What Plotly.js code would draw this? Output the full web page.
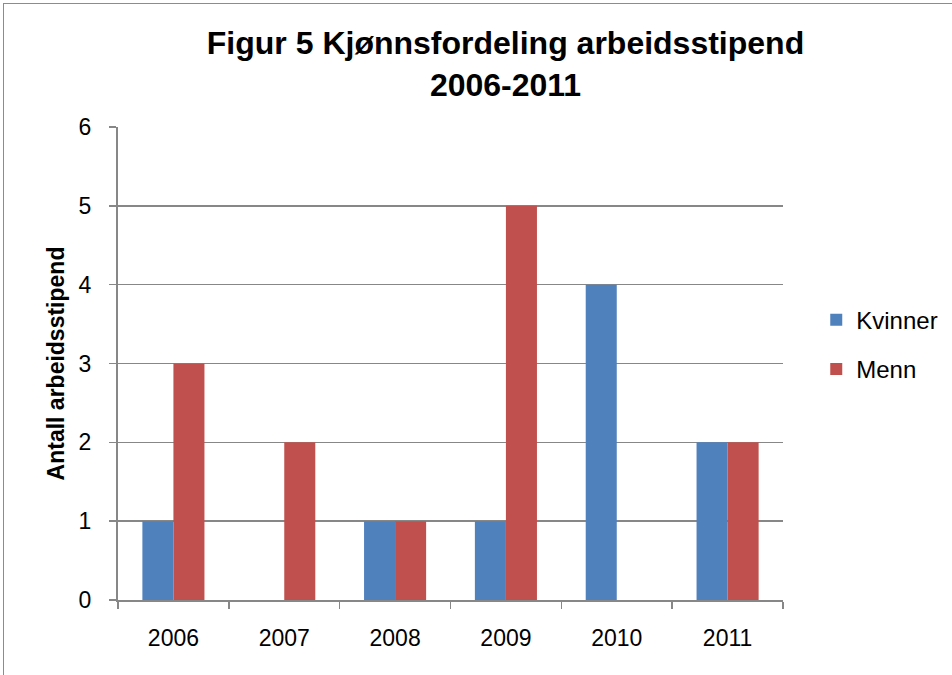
<!DOCTYPE html>
<html>
<head>
<meta charset="utf-8">
<script src="https://cdn.plot.ly/plotly-3.0.1.min.js"></script>
<style>
  html, body { margin: 0; padding: 0; background: #fff; overflow: hidden; }
  #frame { position: absolute; left: 3px; top: 3px; width: 1000px; height: 720px; border: 1px solid #8c8c8c; }
  #chart { position: absolute; left: 0; top: 0; width: 952px; height: 675px; }
</style>
</head>
<body>
<div id="frame"></div>
<div id="chart"></div>
<script>
const years = ["2006", "2007", "2008", "2009", "2010", "2011"];
const kvinner = [1, 0, 1, 1, 4, 2];
const menn = [3, 2, 1, 5, 0, 2];

const font = "'Liberation Sans Narrow', 'Arial Narrow', sans-serif";
const gray = "#878787";

const data = [
  { type: "bar", name: "Kvinner", legendgroup: "k", x: years, y: kvinner, marker: { color: "#4f81bd" } },
  { type: "bar", name: "Menn", legendgroup: "m", x: years, y: menn, marker: { color: "#c0504d" } }
];

const layout = {
  width: 952,
  height: 675,
  paper_bgcolor: "rgba(0,0,0,0)",
  plot_bgcolor: "rgba(0,0,0,0)",
  margin: { l: 118, r: 169, t: 127, b: 75, autoexpand: false },
  font: { family: font, color: "#000", size: 23 },
  title: {
    text: "<b>Figur 5 Kjønnsfordeling arbeidsstipend<br>2006-2011</b>",
    font: { family: font, size: 32, color: "#000" },
    xref: "container", x: 0.531, xanchor: "center",
    yref: "container", y: 0.92, yanchor: "middle"
  },
  barmode: "group",
  bargap: 0.44,
  bargroupgap: 0,
  xaxis: {
    type: "category",
    tickson: "boundaries",
    ticks: "outside",
    ticklen: 7,
    tickcolor: gray,
    tickwidth: 1.5,
    showline: true,
    linecolor: gray,
    linewidth: 2,
    showgrid: false,
    ticklabelstandoff: 16,
    tickfont: { family: font, size: 23 }
  },
  yaxis: {
    range: [0, 6],
    dtick: 1,
    ticks: "outside",
    ticklen: 7,
    tickcolor: gray,
    tickwidth: 1.5,
    showline: true,
    linecolor: gray,
    linewidth: 2,
    showgrid: true,
    gridcolor: gray,
    gridwidth: 1.5,
    zeroline: false,
    ticklabelstandoff: 13,
    tickfont: { family: font, size: 23 },
    title: { text: "<b>Antall arbeidsstipend</b>", font: { family: font, size: 23 }, standoff: 8 }
  },
  legend: {
    x: 1.05, xanchor: "left",
    y: 0.54, yanchor: "middle",
    font: { family: font, size: 24 },
    traceorder: "grouped",
    tracegroupgap: 15,
    itemwidth: 30,
    bgcolor: "rgba(0,0,0,0)"
  },
  showlegend: true
};

Plotly.newPlot("chart", data, layout, { displayModeBar: false, staticPlot: true });
</script>
</body>
</html>
